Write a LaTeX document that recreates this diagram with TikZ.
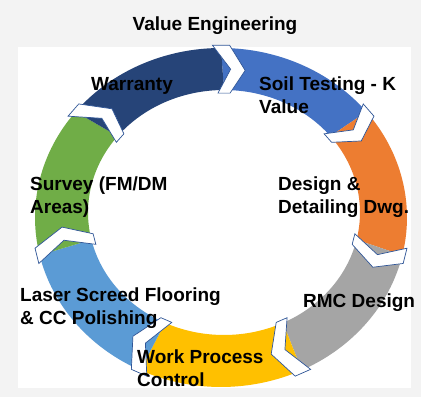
\documentclass[tikz,border=0pt]{standalone}
\usepackage{fontspec}
\setmainfont{Liberation Sans}
\usepackage{xcolor}
\usepackage{tikz}

\definecolor{bgray}{HTML}{F3F3F3}
\definecolor{gapline}{HTML}{2F5597}
\definecolor{soilblue}{HTML}{4472C4}
\definecolor{designorange}{HTML}{ED7D31}
\definecolor{rmcgray}{HTML}{A5A5A5}
\definecolor{workyellow}{HTML}{FFC000}
\definecolor{laserblue}{HTML}{5B9BD5}
\definecolor{surveygreen}{HTML}{70AD47}
\definecolor{warrantyblue}{HTML}{264478}

\begin{document}
\begin{tikzpicture}[x=1pt, y=1pt]
		% Define the styles for the labels and the gaps
		\tikzstyle{stage}=[font=\fontsize{19}{23}\selectfont\bfseries, align=left, anchor=north west, inner sep=0pt]
		\tikzstyle{gap}=[fill=white, draw=gapline, line width=0.7pt, line join=miter]

		% Background
		\fill[bgray] (-221,-179.5) rectangle (200,217.5);
		\fill[white] (-203,-170.5) rectangle (190,170.5);

		% Ring segments, clockwise from the top
		\foreach \col [count=\i from 0] in {soilblue,designorange,rmcgray,workyellow,laserblue,surveygreen,warrantyblue}{
			\pgfmathsetmacro\ta{90-\i*360/7}
			\pgfmathsetmacro\tb{90-(\i+1)*360/7}
			\fill[\col] ({186*cos(\ta)},{169.5*sin(\ta)}) arc[start angle=\ta, end angle=\tb, x radius=186, y radius=169.5]
				-- ({3+136*cos(\tb)},{5+122.5*sin(\tb)}) arc[start angle=\tb, end angle=\ta, x radius=136, y radius=122.5] -- cycle;
		}

		% Chevron gaps between the segments
		\foreach \k in {0,...,6}{
			\pgfmathsetmacro\ab{90-\k*360/7+2.6}
			\pgfmathsetmacro\af{90-\k*360/7-2.6}
			\pgfmathsetmacro\nb{\ab-5.5}
			\pgfmathsetmacro\nf{\af-5.5}
			\draw[gap] ({189*cos(\ab)},{172.5*sin(\ab)}) -- ({1.5+161*cos(\nb)},{2.5+146*sin(\nb)})
				-- ({3+133*cos(\ab)},{5+119.5*sin(\ab)}) -- ({3+133*cos(\af)},{5+119.5*sin(\af)})
				-- ({1.5+161*cos(\nf)},{2.5+146*sin(\nf)}) -- ({189*cos(\af)},{172.5*sin(\af)}) -- cycle;
		}

		% Define nodes
		\node (title) [font=\fontsize{19}{23}\selectfont\bfseries, anchor=base] at (-6,186.5) {Value Engineering};
		\node (soil) [stage] at (38,140.5) {Soil Testing - K\\Value};
		\node (design) [stage] at (57,40.5) {Design \&\\Detailing Dwg.};
		\node (rmc) [stage] at (82,-76.5) {RMC Design};
		\node (work) [stage] at (-84,-132.5) {Work Process\\Control};
		\node (laser) [stage] at (-201,-70.5) {Laser Screed Flooring\\\& CC Polishing};
		\node (survey) [stage] at (-191,40.5) {Survey (FM/DM\\Areas)};
		\node (warranty) [stage] at (-130,140.5) {Warranty};
	\end{tikzpicture}
\end{document}
